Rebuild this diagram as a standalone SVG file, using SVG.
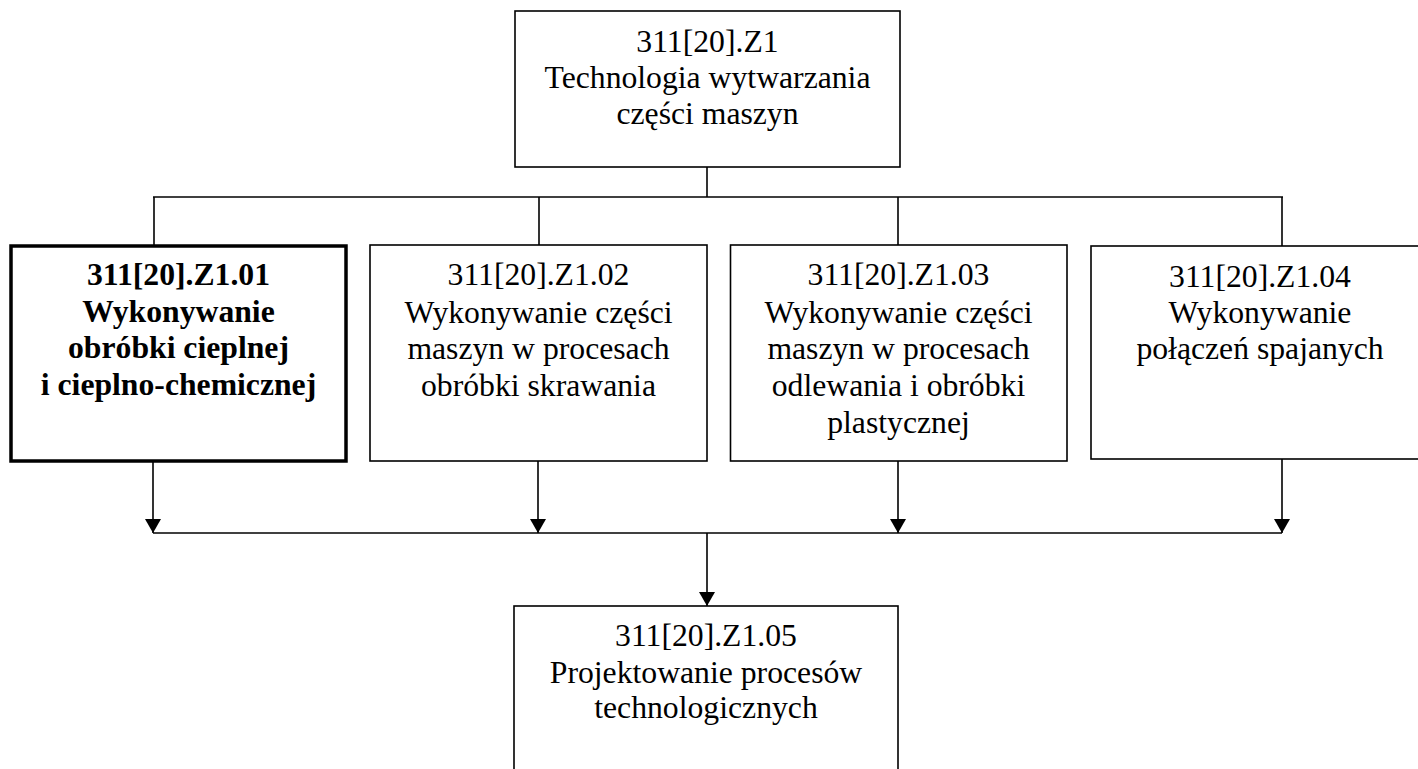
<svg xmlns="http://www.w3.org/2000/svg" width="1418" height="769" viewBox="0 0 1418 769">
<style>
.box{fill:#fff;stroke:#000;stroke-width:1.6}
.bold-box{fill:#fff;stroke:#000;stroke-width:3.5}
.t{font-family:"Liberation Serif","Times New Roman",serif;font-size:31.7px;fill:#000;text-anchor:middle}
.b{font-weight:bold}
.c{fill:none;stroke:#000;stroke-width:1.6}
</style>
<defs>
<marker id="arr" viewBox="0 0 14 16" refX="14" refY="8" markerWidth="14" markerHeight="16" markerUnits="userSpaceOnUse" orient="auto">
<path d="M0,0 L14,8 L0,16 z" fill="#000"/>
</marker>
</defs>
<rect width="1418" height="769" fill="#fff"/>
<g id="connectors">
<line class="c" x1="707" y1="167" x2="707" y2="197"/>
<line class="c" x1="153" y1="197" x2="1283" y2="197"/>
<line class="c" x1="154" y1="197" x2="154" y2="246"/>
<line class="c" x1="539" y1="197" x2="539" y2="245"/>
<line class="c" x1="898" y1="197" x2="898" y2="245"/>
<line class="c" x1="1282" y1="197" x2="1282" y2="246"/>
<line class="c" x1="153" y1="462" x2="153" y2="533" marker-end="url(#arr)"/>
<line class="c" x1="538" y1="461" x2="538" y2="533" marker-end="url(#arr)"/>
<line class="c" x1="898" y1="461" x2="898" y2="533" marker-end="url(#arr)"/>
<line class="c" x1="1282" y1="459" x2="1282" y2="533" marker-end="url(#arr)"/>
<line class="c" x1="153" y1="533" x2="1282" y2="533"/>
<line class="c" x1="707" y1="533" x2="707" y2="606" marker-end="url(#arr)"/>
</g>
<g id="node-z1">
<rect class="box" x="515" y="11" width="385" height="156"/>
<text class="t" x="707.5" y="52">311[20].Z1</text>
<text class="t" x="707.5" y="88">Technologia wytwarzania</text>
<text class="t" x="707.5" y="124">części maszyn</text>
</g>
<g id="node-z101">
<rect class="bold-box" x="11" y="246" width="335" height="215"/>
<text class="t b" x="178.5" y="285">311[20].Z1.01</text>
<text class="t b" x="178.5" y="322">Wykonywanie</text>
<text class="t b" x="178.5" y="358">obróbki cieplnej</text>
<text class="t b" x="178.5" y="395">i cieplno-chemicznej</text>
</g>
<g id="node-z102">
<rect class="box" x="370" y="245" width="337" height="216"/>
<text class="t" x="538.5" y="285">311[20].Z1.02</text>
<text class="t" x="538.5" y="323">Wykonywanie części</text>
<text class="t" x="538.5" y="359">maszyn w procesach</text>
<text class="t" x="538.5" y="396">obróbki skrawania</text>
</g>
<g id="node-z103">
<rect class="box" x="730.5" y="245" width="336.5" height="216"/>
<text class="t" x="898.5" y="285">311[20].Z1.03</text>
<text class="t" x="898.5" y="323">Wykonywanie części</text>
<text class="t" x="898.5" y="359">maszyn w procesach</text>
<text class="t" x="898.5" y="396">odlewania i obróbki</text>
<text class="t" x="898.5" y="433">plastycznej</text>
</g>
<g id="node-z104">
<rect class="box" x="1091" y="246" width="340" height="213"/>
<text class="t" x="1260" y="287">311[20].Z1.04</text>
<text class="t" x="1260" y="323">Wykonywanie</text>
<text class="t" x="1260" y="359">połączeń spajanych</text>
</g>
<g id="node-z105">
<rect class="box" x="514" y="606" width="384" height="200"/>
<text class="t" x="706" y="646">311[20].Z1.05</text>
<text class="t" x="706" y="683">Projektowanie procesów</text>
<text class="t" x="706" y="718">technologicznych</text>
</g>
</svg>
